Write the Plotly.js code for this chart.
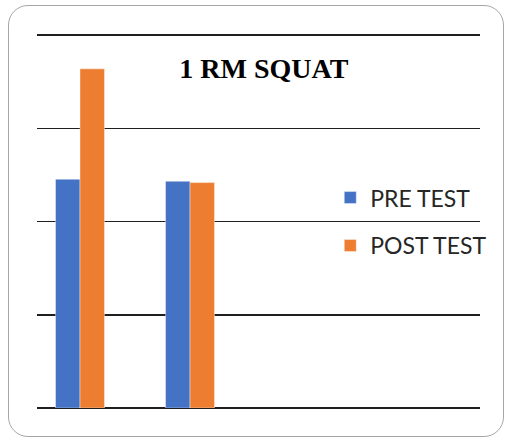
<!DOCTYPE html>
<html>
<head>
<meta charset="utf-8">
<script src="https://cdn.plot.ly/plotly-3.0.1.min.js"></script>
<style>
  html, body { margin: 0; padding: 0; background: #ffffff; }
  #frame { position: absolute; left: 8px; top: 5px; width: 496px; height: 432px;
           border: 1.5px solid #a6a6a6; border-radius: 20px; box-sizing: border-box; }
  #chart { position: absolute; left: 0; top: 0; width: 505px; height: 438px; }
</style>
</head>
<body>
<div id="frame"></div>
<div id="chart"></div>
<script>
// Data (gridlines assumed 50 units apart; axis labels not shown)
var categories = ["GROUP 1", "GROUP 2"];
var preTest  = [122.7, 121.6];
var postTest = [181.9, 120.9];
var seriesNames = ["PRE TEST", "POST TEST"];
var yTicks = [0, 50, 100, 150, 200];

var traces = [
  { type: "bar", name: seriesNames[0], x: categories, y: preTest, legendgroup: "a",
    marker: { color: "#4472C4", line: { color: "rgba(255,255,255,0.5)", width: 0.8 } } },
  { type: "bar", name: seriesNames[1], x: categories, y: postTest, legendgroup: "b",
    marker: { color: "#ED7D31", line: { color: "rgba(255,255,255,0.5)", width: 0.8 } } }
];

var layout = {
  width: 505, height: 438,
  margin: { l: 37, r: 25, t: 34, b: 30, pad: 0, autoexpand: false },
  paper_bgcolor: "rgba(0,0,0,0)",
  plot_bgcolor: "rgba(0,0,0,0)",
  barmode: "group",
  bargap: 0.555,
  bargroupgap: 0,
  showlegend: true,
  title: {
    text: "<b>1 RM SQUAT</b>",
    font: { family: "Liberation Serif, Times New Roman, serif", size: 28, color: "#000000" },
    xref: "paper", x: 0.512, xanchor: "center",
    yref: "container", y: 0.845, yanchor: "middle"
  },
  xaxis: {
    type: "category",
    range: [-0.391, 3.636],
    showticklabels: false, ticks: "", showgrid: false, zeroline: false, showline: false
  },
  yaxis: {
    range: [0, 200.6],
    tickvals: yTicks,
    showticklabels: false, ticks: "",
    showgrid: true, gridcolor: "#1f1f1f", gridwidth: 1.5,
    zeroline: true, zerolinecolor: "#1f1f1f", zerolinewidth: 1.8,
    showline: false
  },
  legend: {
    x: 0.662, xanchor: "left",
    y: 0.62, yanchor: "top",
    traceorder: "grouped",
    tracegroupgap: 15,
    bgcolor: "rgba(0,0,0,0)",
    font: { family: "Lato, Open Sans, sans-serif", size: 23, color: "#262626" }
  }
};

Plotly.newPlot("chart", traces, layout, { displayModeBar: false, staticPlot: true });
</script>
</body>
</html>
